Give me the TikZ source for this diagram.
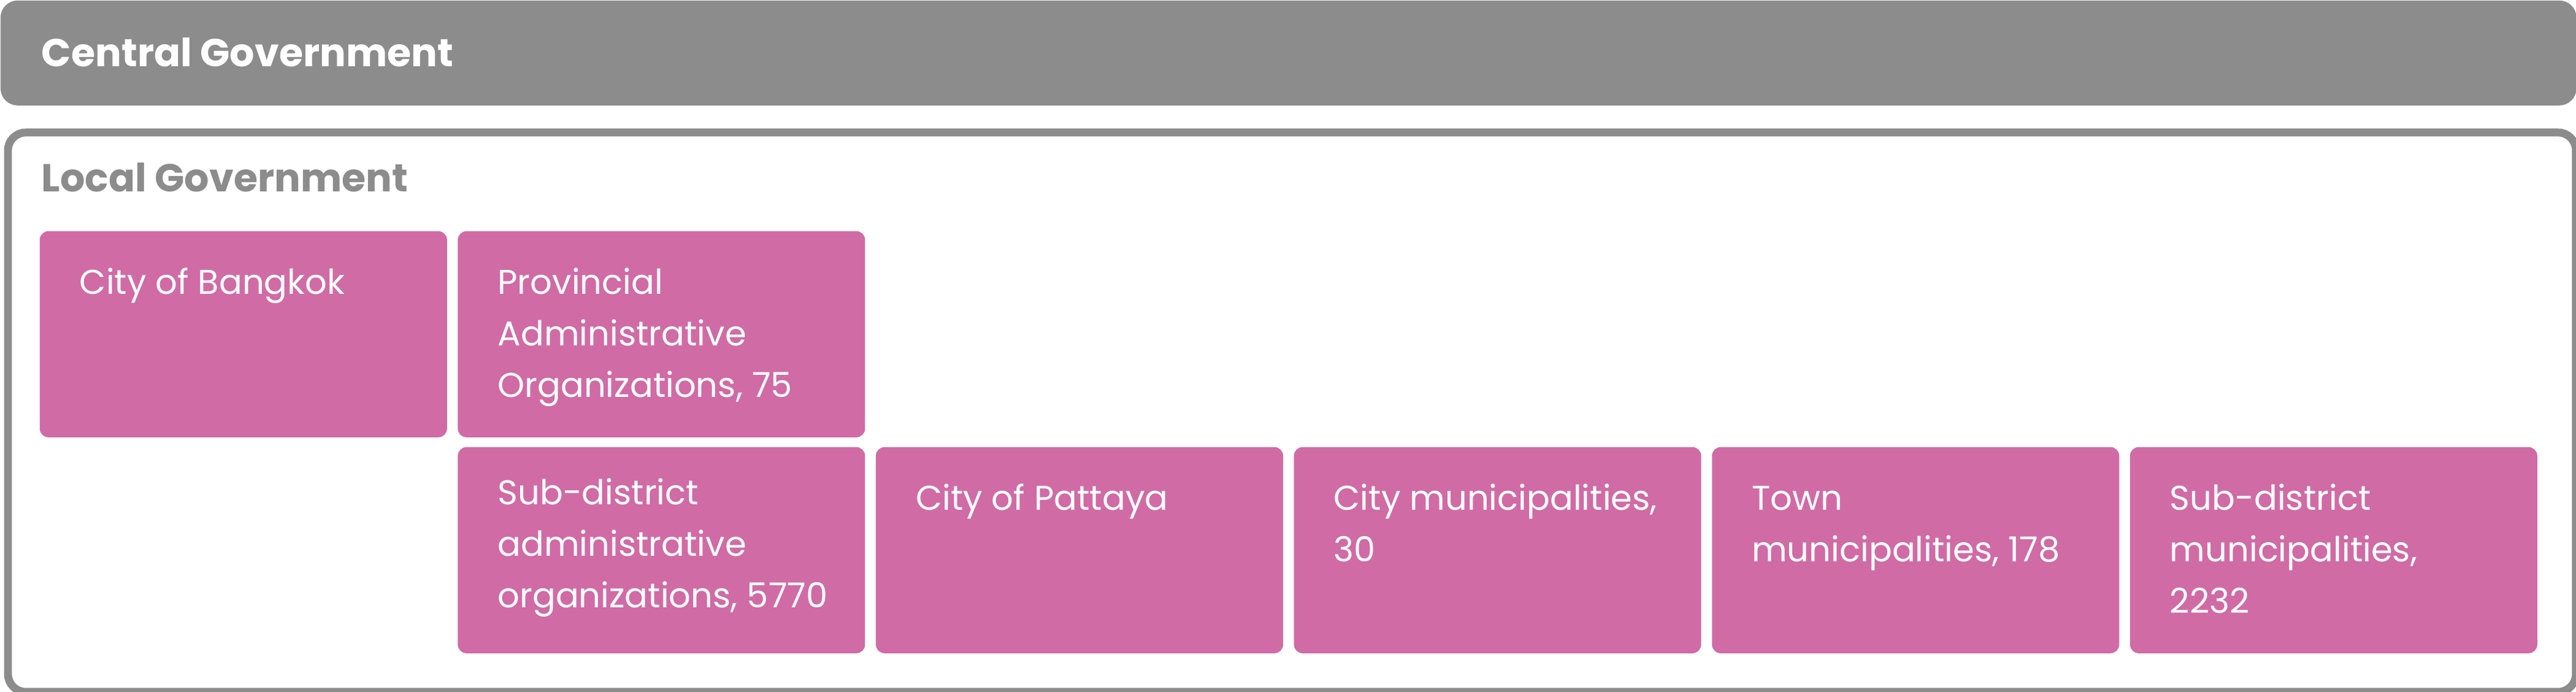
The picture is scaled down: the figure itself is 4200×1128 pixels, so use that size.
\documentclass[tikz,border=0pt]{standalone}
\usepackage{fontspec}
\setmainfont{Poppins}
\usetikzlibrary{calc}
\definecolor{govgray}{HTML}{8C8C8C}
\definecolor{orgpink}{HTML}{D06BA6}
\begin{document}
\begin{tikzpicture}[x=0.24pt,y=-0.24pt,
		bar/.style={fill=govgray,rounded corners=6.7pt,anchor=north west,inner sep=0pt,minimum width=1008pt,minimum height=41.04pt},
		frame/.style={draw=govgray,line width=3.1pt,rounded corners=7pt,anchor=north west,inner sep=0pt,minimum width=1004.88pt,minimum height=218.88pt},
		cell/.style={fill=orgpink,rounded corners=3.4pt,anchor=north west,inner sep=0pt,minimum width=159.36pt,minimum height=80.64pt},
		celltext/.style={white,anchor=base west,align=left,inner sep=0pt,font=\fontsize{13.44pt}{20.16pt}\selectfont},
		heading/.style={anchor=base west,inner sep=0pt,font=\bfseries\fontsize{15.25pt}{19pt}\selectfont}]
		\useasboundingbox (0,0) rectangle (4200,1128);
		\node[bar] (central) at (0,0) {};
		\node[heading,white] (centraltitle) at (67,109) {Central Government};
		\node[frame] (local) at (6.5,209.5) {};
		\node[heading,govgray] (localtitle) at (67,313) {Local Government};
		% upper row
		\node[cell] (bangkok) at (64,376) {};
		\node[cell] (pao) at (745.6,376) {};
		% lower row
		\node[cell] (sao) at (745.6,728) {};
		\node[cell] (pattaya) at (1427.2,728) {};
		\node[cell] (citymun) at (2108.8,728) {};
		\node[cell] (townmun) at (2790.4,728) {};
		\node[cell] (submun) at (3472,728) {};
		% labels, anchored on the baseline of the last line
		\node[celltext] (bangkoktext) at ($(bangkok.north west)+(65,104)$) {City of Bangkok};
		\node[celltext] (paotext) at ($(pao.north west)+(65,272)$) {Provincial\\Administrative\\Organizations, 75};
		\node[celltext] (saotext) at ($(sao.north west)+(65,263)$) {Sub-district\\administrative\\organizations, 5770};
		\node[celltext] (pattayatext) at ($(pattaya.north west)+(65,104)$) {City of Pattaya};
		\node[celltext] (citymuntext) at ($(citymun.north west)+(65,188)$) {City municipalities,\\30};
		\node[celltext] (townmuntext) at ($(townmun.north west)+(65,188)$) {Town\\municipalities, 178};
		\node[celltext] (submuntext) at ($(submun.north west)+(65,272)$) {Sub-district\\municipalities,\\2232};
	\end{tikzpicture}
\end{document}
